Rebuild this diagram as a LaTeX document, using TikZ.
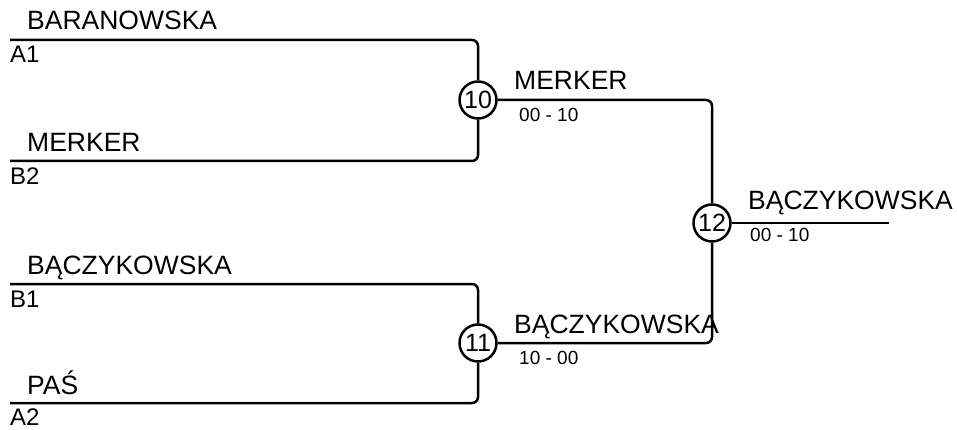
\documentclass[tikz,border=0pt]{standalone}
\usepackage{fontspec}
\setmainfont{Liberation Sans}
\begin{document}
\begin{tikzpicture}[x=1pt,y=-1pt,
  player/.style={font=\fontsize{26.5}{30}\selectfont, anchor=base west, inner sep=0pt},
  seed/.style={font=\fontsize{24}{28}\selectfont, anchor=base west, inner sep=0pt},
  score/.style={font=\fontsize{19}{22}\selectfont, anchor=base west, inner sep=0pt},
  match/.style={circle, draw, line width=2.5pt, minimum size=37pt, inner sep=0pt, fill=white, font=\fontsize{25}{25}\selectfont},
  wire/.style={line width=2.5pt, rounded corners=6pt}]
\useasboundingbox (0,3) rectangle (957,433);
% match circles
\node[match] (m10) at (478,103) {10};
\node[match] (m11) at (478,346) {11};
\node[match] (m12) at (712,226) {12};
% line start / end points
\coordinate (s1) at (10,43);
\coordinate (s2) at (10,164);
\coordinate (s3) at (10,287);
\coordinate (s4) at (10,406);
\coordinate (fin) at (889,226);
% connectors
\draw[wire] (s1) -| (m10.north);
\draw[wire] (s2) -| (m10.south);
\draw[wire] (s3) -| (m11.north);
\draw[wire] (s4) -| (m11.south);
\draw[wire] (m10.east) -| (m12.north);
\draw[wire] (m11.east) -| (m12.south);
\draw[wire] (m12.east) -- (fin);
% first round names and seeds
\node[player] (p1) at (27,33) {BARANOWSKA};
\node[seed] (q1) at (10,66) {A1};
\node[player] (p2) at (27,155) {MERKER};
\node[seed] (q2) at (10,188) {B2};
\node[player] (p3) at (27,277) {BĄCZYKOWSKA};
\node[seed] (q3) at (10,310) {B1};
\node[player] (p4) at (27,397) {PAŚ};
\node[seed] (q4) at (10,428) {A2};
% second round
\node[player] (w10) at (514,93) {MERKER};
\node[score] (r10) at (519,125) {00 - 10};
\node[player] (w11) at (514,336) {BĄCZYKOWSKA};
\node[score] (r11) at (519,367) {10 - 00};
% final
\node[player] (w12) at (748,213) {BĄCZYKOWSKA};
\node[score] (r12) at (750,244) {00 - 10};
\end{tikzpicture}
\end{document}
